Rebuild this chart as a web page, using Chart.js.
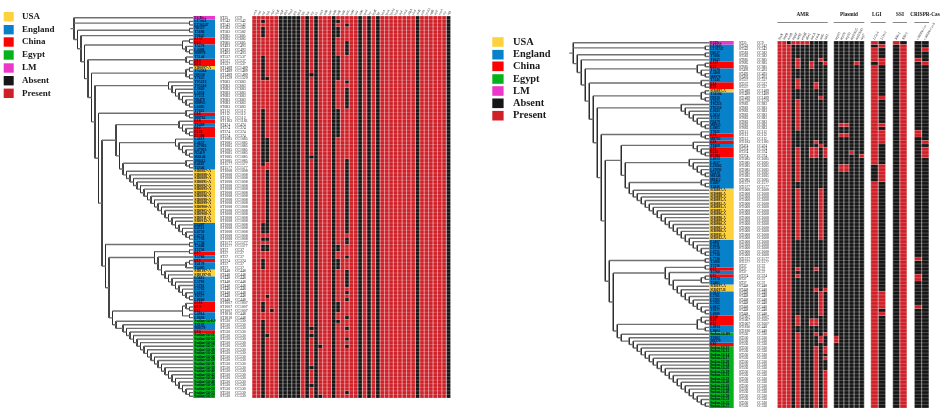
<!DOCTYPE html>
<html>
<head>
<meta charset="utf-8">
<title>Phylogeny with gene presence heatmaps</title>
<script src="https://cdn.jsdelivr.net/npm/chart.js@4"></script>
<style>
  html, body { margin: 0; padding: 0; background: #fff; }
  #wrap { position: relative; width: 942px; height: 412px; overflow: hidden; }
  #main-chart { filter: blur(0.35px); }
</style>
</head>
<body>
<div id="wrap"><canvas id="main-chart" width="942" height="412"></canvas></div>
<script>
// ── Data ──────────────────────────────────────────────────────────────────────
const LEGEND_LABELS = ["USA", "England", "China", "Egypt", "LM", "Absent", "Present"];

// one letter per row, top to bottom: L LM, E England, C China, U USA, G Egypt
const TIP_COUNTRY = ("L" + "EEEEE" + "CC" + "EEEE" + "CC" + "U" + "EEEEEEEEEEEE" + "C" + "E" + "C" + "E" + "CCC" +
  "EEEEEEEEE" + "UUUUUUUUUUUUUUU" + "EEEEEEEE" + "C" + "E" + "C" + "EE" + "UU" + "EEEEEEE" + "CCC" + "EE" + "G" +
  "EE" + "C" + "GGGGGGGGGGGGGGGGGG").split("");

const TIP_NAMES = [
  "EGDe+",
  "LT5021", "LT36247", "N8537", "T5686", "T8645", "E137", "E13",
  "T5278", "L4408", "M8978", "T5146", "E14", "E18", "SH0897-A",
  "T34584", "N9130", "T7625", "T95213", "T95216", "L3843", "L5054", "T7251", "N8479", "M8935", "L6885", "T7021",
  "E16", "M8762", "E18", "T8469", "E12", "E121", "E1394",
  "L4613", "L4637", "L47002", "L47092", "N2419", "M8146", "M8412", "E4687", "T4346",
  "SH0887-A", "SH0888-A", "SH0889-A", "SH0891-A", "SH0892-A", "SH0893-A", "SH0895-A", "SH0896-A", "SH0898-A",
  "SH0899-A", "SH0900-A", "SH0905-A", "SH0908-A", "SH0911-A", "SH0912-A",
  "E4487", "E4511", "L6750", "L6751", "L7730", "L7736", "T5686", "T5736",
  "E17", "T5760", "E15", "T4178", "T4405",
  "SH0197-A", "SH0197-B", "L5612", "L5701", "L5761", "L5762", "L6017", "T6377", "L8686",
  "E110", "E19", "E11", "L4914", "L8604",
  "Sudan-14-R9", "T8103", "M8379", "E10",
  "Sudan-14-11", "Sudan-14-12", "Sudan-14-14", "Sudan-14-17", "Sudan-14-20", "Sudan-14-24", "Sudan-14-26",
  "Sudan-14-29", "Sudan-14-31", "Sudan-14-33", "Sudan-14-40", "Sudan-14-42", "Sudan-14-44", "Sudan-14-46",
  "Sudan-14-50", "Sudan-14-53", "Sudan-14-55", "Sudan-14-57", "Sudan-14-60"
];

const TIP_ST = [
  "ST35",
  "ST542", "ST542", "ST582", "ST582", "ST685", "ST685", "ST685", "ST493", "ST493", "ST493", "ST537", "ST537", "ST537",
  "ST1489", "ST1489", "ST1489", "ST1529",
  "ST683", "ST683", "ST683", "ST683", "ST683", "ST683", "ST683", "ST683",
  "ST112", "ST112", "ST112", "ST1183", "ST474", "ST374", "ST374", "ST374",
  "ST1085", "ST1085", "ST1085", "ST1085", "ST1085", "ST1085", "ST1085", "ST1577", "ST1577",
  "ST1008", "ST1008", "ST1008", "ST1008", "ST1008", "ST1008", "ST1008", "ST1008", "ST1008", "ST1008",
  "ST1008", "ST1008", "ST1008", "ST1008", "ST1008", "ST1008", "ST1008", "ST1008", "ST1008", "ST1008",
  "ST1577", "ST1577", "ST37", "ST37", "ST37", "ST374", "ST37", "ST37",
  "ST448", "ST448", "ST448", "ST448", "ST448", "ST448", "ST448", "ST448", "ST448",
  "ST1007", "ST1007", "ST1007", "ST1810", "ST1810",
  "ST530", "ST530", "ST530", "ST530", "ST530", "ST530", "ST530", "ST530", "ST530", "ST530", "ST530",
  "ST530", "ST530", "ST530", "ST530", "ST530", "ST530", "ST530", "ST530", "ST530", "ST530", "ST530"
];

const TIP_CC = [
  "CC9",
  "CC542", "CC542", "CC582", "CC582", "CC685", "CC685", "CC685", "CC493", "CC493", "CC493", "CC537", "CC537", "CC537",
  "CC1489", "CC1489", "CC1489", "CC1529",
  "CC683", "CC683", "CC683", "CC683", "CC683", "CC683", "CC683", "CC683",
  "CC112", "CC112", "CC112", "CC1183", "CC474", "CC374", "CC374", "CC374",
  "CC1085", "CC1085", "CC1085", "CC1085", "CC1085", "CC1085", "CC1085", "CC1577", "CC1577",
  "CC1008", "CC1008", "CC1008", "CC1008", "CC1008", "CC1008", "CC1008", "CC1008", "CC1008", "CC1008",
  "CC1008", "CC1008", "CC1008", "CC1008", "CC1008", "CC1008", "CC1008", "CC1008", "CC1008", "CC1008",
  "CC1577", "CC1577", "CC37", "CC37", "CC37", "CC374", "CC37", "CC37",
  "CC448", "CC448", "CC448", "CC448", "CC448", "CC448", "CC448", "CC448", "CC448",
  "CC1007", "CC1007", "CC1007", "CC448", "CC448",
  "CC530", "CC530", "CC530", "CC530", "CC530", "CC530", "CC530", "CC530", "CC530", "CC530", "CC530",
  "CC530", "CC530", "CC530", "CC530", "CC530", "CC530", "CC530", "CC530", "CC530", "CC530", "CC530"
];

// Tree: numbers are row indexes, arrays are internal nodes.
// at(level, ...kids) pins a node's depth, other nodes sit one level above their deepest kid.
const at = (level, ...kids) => ({ level, kids });

const CLADE_18_25 = [18, [19, [20, [21, [22, [23, [24, 25]]]]]]];
const CLADE_34_39 = [34, [35, [36, [37, [38, 39]]]]];
const CLADE_43_62 = [43, [44, [45, [46, [47, [48, [49, [50, [51, [52, [53, [54, [55, [56, [57, [58, [59, [60, [61, 62]]]]]]]]]]]]]]]]]]];
const CLADE_71_79 = [71, [72, [73, [74, [75, [76, [77, [78, 79]]]]]]]];
const CLADE_86_106 = [86, [87, [88, [89, [90, [91, [92, [93, [94, [95, [96, [97, [98, [99, [100, [101, [102, [103, [104, [105, 106]]]]]]]]]]]]]]]]]]]];

const TREE =
  at(34, 0, [1, 2],
    at(33, [3, 4],
      at(32, 5,
        at(31, [[6, 7], [8, [9, 10]]],
          at(30, [11, [12, 13]],
            at(29, [[14, 15], [16, 17]],
              at(28, CLADE_18_25,
                at(27, [26, [27, 28]],
                  at(26,
                    at(22, [29, [30, [31, [32, 33]]]],
                      at(21, CLADE_34_39,
                        at(20, [40, [41, 42]], CLADE_43_62))),
                    at(25, [63, 64],
                      at(24,
                        [[65, 66], [67, [[[68, 69], 70], CLADE_71_79]]],
                        at(23, [[80, [81, 82]], [83, 84]],
                          at(22, 85, CLADE_86_106)))))))))))));

// Left heatmap: 45 genes. Rows are written as ranges, every row not listed is Present.
const LEFT_GENES = [
  "actA", "ami", "aut", "bsh", "clpC", "clpE", "clpP", "dltA", "fbpA", "gap", "gtcA", "hly", "hpt", "iap", "icl",
  "inlA", "inlB", "inlC", "inlD", "inlE", "inlF", "inlG", "inlH", "inlJ", "inlK", "ipeA", "lap", "lapB", "lgt",
  "lntA", "lpeA", "lplA1", "lspA", "mpl", "oatA", "pdgA", "plcA", "plcB", "prfA", "prsA2", "sigB", "sipZ", "svpA",
  "vip", "vgb"
];
const LEFT_ABSENT = {
  2: "1,3-5,11-17,26-41,58-60,62,64,65,68-70,80-82,85-106",
  3: "17,34-40,43-60,62,64,65,78,89",
  4: "82",
  6: "0-106", 7: "0-106", 8: "0-106", 9: "0-106", 10: "0-106",
  12: "0-106",
  13: "16,39,87,89,98,103",
  14: "0-106",
  15: "92,106",
  18: "0-106",
  19: "1,3-5,11-17,26-33,64,65,68-70,80-82,85",
  21: "2,7-10,18,20-25,40-60,62,63,67,71-75,77,79,84,87,90,92,105",
  24: "0-106", 26: "0-106", 28: "0-106", 37: "0-106", 44: "0-106"
};

// Right heatmap blocks. Rows listed are Present, every row not listed is Absent.
const AMR_GENES = ["fosX", "lmrB", "norB", "mprF", "tetM", "ermB", "dfrG", "aacA", "catA", "ant6", "sul1"];
const AMR_PRESENT = {
  0: "0-106", 1: "0-106", 2: "1-106", 3: "0",
  4: "0,5-7,11-13,17-25,31-40,43-57,66,68,80-82,85-106",
  5: "0", 6: "0", 7: "6,7,31-33,81,82",
  8: "12,13,29,31-33,66,72,81,82,85,89-106",
  9: "5,16,30,43-57,73-79,86,87",
  10: "6,31-33,72,85,89,90,92,96-106"
};
const PLASMID_GENES = ["rep25", "rep26", "rep32", "repUS25", "repUS43", "rep7"];
const PLASMID_PRESENT = { 0: "86,87", 1: "24,27,36,37", 2: "24,27,36,37", 3: "32", 4: "6", 5: "33" };
const LGI_GENES = ["LGI-1", "LGI-2"];
const LGI_PRESENT = { 0: "0,2-5,7-35,41-106", 1: "1,5,6,16,24,26-29,36-40,73-77,79" };
const SSI_GENES = ["SSI-1", "SSI-2"];
const SSI_PRESENT = { 0: "0", 1: "1-106" };
const CRISPR_GENES = ["CRISPR-Cas", "CRISPR-Cas II"];
const CRISPR_PRESENT = { 0: "5,26,27,63,68,69,77", 1: "2,6,29,31-33" };

// ── Layout and colours ────────────────────────────────────────────────────────
const W = 942, H = 412;
const COLORS = {
  USA: "#fdd23c", England: "#0681ca", China: "#fb0303", Egypt: "#04b31a", LM: "#ec38ca",
  Absent: "#161616", Present: "#cf1f27"
};
const COUNTRY = { L: "LM", E: "England", C: "China", U: "USA", G: "Egypt" };
const NROWS = TIP_COUNTRY.length;

const LEFT = {
  key: "L", rowTop: 16, rowH: 3.57, tipX: 193, levelW: 3.5,
  strip: [193.3, 215], stX: 220, ccX: 235, textSize: 3.8, nameX: 194.3
};
const RIGHT = {
  key: "R", rowTop: 41, rowH: 3.43, tipX: 709.3, levelW: 4.0,
  strip: [709.3, 733.7], stX: 739, ccX: 757, textSize: 3.5, nameX: 710.3
};

const BLOCKS = [
  { id: "L0", panel: LEFT, x: [252, 450.7], genes: LEFT_GENES, absent: LEFT_ABSENT, labelY: 15, size: 3.2 },
  { id: "R0", panel: RIGHT, x: [777.3, 827.7], genes: AMR_GENES, present: AMR_PRESENT, labelY: 39.5, size: 3.6, title: "AMR", titleX: 802.7, ruleY: 22.5 },
  { id: "R1", panel: RIGHT, x: [833.7, 864.3], genes: PLASMID_GENES, present: PLASMID_PRESENT, labelY: 39.5, size: 3.6, title: "Plasmid", titleX: 849, ruleY: 22.5 },
  { id: "R2", panel: RIGHT, x: [870.7, 885.7], genes: LGI_GENES, present: LGI_PRESENT, labelY: 39.5, size: 3.6, title: "LGI", titleX: 876.7, ruleY: 22.5 },
  { id: "R3", panel: RIGHT, x: [892.7, 907], genes: SSI_GENES, present: SSI_PRESENT, labelY: 39.5, size: 3.6, title: "SSI", titleX: 900, ruleY: 22.5 },
  { id: "R4", panel: RIGHT, x: [914.3, 929], genes: CRISPR_GENES, present: CRISPR_PRESENT, labelY: 39.5, size: 3.1, title: "CRISPR-Cas", titleX: 925, ruleY: 22.5 }
];

const LEGENDS = [
  { boxX: 3.7, boxW: 10, boxH: 9.4, textX: 22, size: 9, ys: [16.7, 29.7, 42, 55, 68, 80.7, 93.3] },
  { boxX: 492.3, boxW: 11.3, boxH: 9.6, textX: 513, size: 10.4, ys: [42, 54.7, 66.3, 79, 91, 103.3, 115.7] }
];

// ── Helpers ───────────────────────────────────────────────────────────────────
// linear scale filling the whole canvas so that value vA lands on pixel pA and vB on pB
function axis(position, vA, pA, vB, pB, len) {
  const k = (vB - vA) / (pB - pA);
  const v0 = vA - pA * k, v1 = v0 + len * k;
  // a vertical scale runs bottom to top unless reversed
  const reverse = position === "left" ? v0 < v1 : v0 > v1;
  return {
    type: "linear", position, display: false, bounds: "data",
    reverse, min: Math.min(v0, v1), max: Math.max(v0, v1),
    ticks: { maxTicksLimit: 2 }
  };
}

function parseRows(text) {
  if (!text) return [];
  const rows = [];
  text.split(",").forEach(part => {
    const [a, b] = part.split("-").map(Number);
    for (let r = a; r <= (b === undefined ? a : b); r++) rows.push(r);
  });
  return rows;
}

const GAP = { x: NaN, y: NaN };

// lower order is painted later, so the cell borders use -1 to lie over the cells
function lineSet(points, xAxisID, yAxisID, color, width, order = 0) {
  return {
    type: "scatter", data: points, xAxisID, yAxisID, showLine: true, order,
    borderColor: color, borderWidth: width, borderCapStyle: "butt",
    pointRadius: 0, pointHoverRadius: 0, tension: 0
  };
}

function cellPoints(col, rows) {
  const pts = [];
  rows.forEach(r => pts.push({ x: col, y: r - 0.5 }, { x: col, y: r + 0.5 }, GAP));
  return pts;
}

// walk the tree, gives every node a row position and a level, collects branches
function layoutTree(node, hLines, vLines) {
  if (typeof node === "number") return { y: node, level: 0 };
  const kidsSrc = Array.isArray(node) ? node : node.kids;
  const kids = kidsSrc.map(k => layoutTree(k, hLines, vLines));
  const level = Array.isArray(node) ? 1 + Math.max(...kids.map(k => k.level)) : node.level;
  const ys = kids.map(k => k.y);
  const y = (ys[0] + ys[ys.length - 1]) / 2;
  vLines.push({ x: level, y: Math.min(...ys) }, { x: level, y: Math.max(...ys) }, GAP);
  kids.forEach(k => hLines.push({ x: level, y: k.y }, { x: k.level, y: k.y }, GAP));
  return { y, level };
}

// ── Scales and datasets ───────────────────────────────────────────────────────
const scales = {};
const datasets = [];

[LEFT, RIGHT].forEach(p => {
  const k = p.key;
  scales["y" + k] = axis("left", -0.5, p.rowTop, NROWS - 0.5, p.rowTop + p.rowH * NROWS, H);
  scales["tree" + k] = axis("bottom", 0, p.tipX, 10, p.tipX - 10 * p.levelW, W);
  scales["strip" + k] = axis("bottom", -0.5, p.strip[0], 0.5, p.strip[1], W);

  // country strip
  Object.keys(COUNTRY).forEach(code => {
    const rows = TIP_COUNTRY.map((c, r) => (c === code ? r : -1)).filter(r => r >= 0);
    datasets.push(lineSet(cellPoints(0, rows), "strip" + k, "y" + k, COLORS[COUNTRY[code]], p.strip[1] - p.strip[0]));
  });

  // tree branches
  const hLines = [], vLines = [];
  const root = layoutTree(TREE, hLines, vLines);
  hLines.push({ x: root.level + 1, y: root.y }, { x: root.level, y: root.y });
  datasets.push(lineSet(hLines, "tree" + k, "y" + k, "#707070", 1.4));
  datasets.push(lineSet(vLines, "tree" + k, "y" + k, "#2c2c2c", 1));
});

BLOCKS.forEach(b => {
  const n = b.genes.length, p = b.panel, xId = "x" + b.id, yId = "y" + p.key;
  scales[xId] = axis("bottom", -0.5, b.x[0], n - 0.5, b.x[1], W);
  const colW = (b.x[1] - b.x[0]) / n;
  const red = [], black = [];
  for (let c = 0; c < n; c++) {
    const listed = new Set(parseRows((b.absent || b.present)[c]));
    for (let r = 0; r < NROWS; r++) {
      const isListed = listed.has(r);
      const isAbsent = b.absent ? isListed : !isListed;
      (isAbsent ? black : red).push({ x: c, y: r - 0.5 }, { x: c, y: r + 0.5 }, GAP);
    }
  }
  datasets.push(lineSet(red, xId, yId, COLORS.Present, colW));
  datasets.push(lineSet(black, xId, yId, COLORS.Absent, colW));

  // pale cell borders, rows and columns in separate passes
  const rowGrid = [], colGrid = [];
  for (let r = 0; r <= NROWS; r++) rowGrid.push({ x: -0.5, y: r - 0.5 }, { x: n - 0.5, y: r - 0.5 }, GAP);
  for (let c = 0; c <= n; c++) colGrid.push({ x: c - 0.5, y: -0.5 }, { x: c - 0.5, y: NROWS - 0.5 }, GAP);
  datasets.push(lineSet(rowGrid, xId, yId, "rgba(255,255,255,0.4)", 0.6, -1));
  datasets.push(lineSet(colGrid, xId, yId, "rgba(255,255,255,0.4)", 0.5, -1));
});

// ── Text, legends, group headers ──────────────────────────────────────────────
const textPlugin = {
  id: "figureText",
  afterDatasetsDraw(chart) {
    const ctx = chart.ctx;
    ctx.save();
    ctx.textBaseline = "middle";

    [LEFT, RIGHT].forEach(p => {
      const yS = chart.scales["y" + p.key];
      for (let r = 0; r < NROWS; r++) {
        const y = yS.getPixelForValue(r);
        ctx.textAlign = "left";
        ctx.font = `bold ${p.textSize}px "Liberation Serif"`;
        ctx.fillStyle = "#0b0b2a";
        ctx.fillText(TIP_NAMES[r], p.nameX, y);
        ctx.font = `${p.textSize}px "Liberation Serif"`;
        ctx.fillStyle = "#222";
        ctx.fillText(TIP_ST[r], p.stX, y);
        ctx.fillText(TIP_CC[r], p.ccX, y);
      }
    });

    BLOCKS.forEach(b => {
      const xS = chart.scales["x" + b.id];
      ctx.fillStyle = "#222";
      ctx.font = `${b.size}px "Liberation Serif"`;
      ctx.textAlign = "left";
      b.genes.forEach((g, c) => {
        ctx.save();
        ctx.translate(xS.getPixelForValue(c) - 0.5, b.labelY);
        ctx.rotate(-Math.PI / 3);
        ctx.fillText(g, 0, 0);
        ctx.restore();
      });
      if (b.title) {
        ctx.font = 'bold 5.2px "Liberation Serif"';
        ctx.textAlign = "center";
        ctx.fillStyle = "#111";
        ctx.fillText(b.title, b.titleX, 15);
        ctx.strokeStyle = "#555";
        ctx.lineWidth = 0.7;
        ctx.beginPath();
        ctx.moveTo(b.x[0], b.ruleY);
        ctx.lineTo(b.x[1], b.ruleY);
        ctx.stroke();
      }
    });

    LEGENDS.forEach(l => {
      LEGEND_LABELS.forEach((label, i) => {
        ctx.fillStyle = COLORS[label];
        ctx.fillRect(l.boxX, l.ys[i] - l.boxH / 2, l.boxW, l.boxH);
        ctx.fillStyle = "#1a1a1a";
        ctx.textAlign = "left";
        ctx.font = `bold ${l.size}px "Liberation Serif"`;
        ctx.fillText(label, l.textX, l.ys[i]);
      });
    });
    ctx.restore();
  }
};

// ── Chart ─────────────────────────────────────────────────────────────────────
new Chart(document.getElementById("main-chart"), {
  type: "scatter",
  data: { datasets },
  options: {
    responsive: false,
    animation: false,
    events: [],
    layout: { padding: 0 },
    plugins: { legend: { display: false }, tooltip: { enabled: false } },
    scales
  },
  plugins: [textPlugin]
});
</script>
</body>
</html>
